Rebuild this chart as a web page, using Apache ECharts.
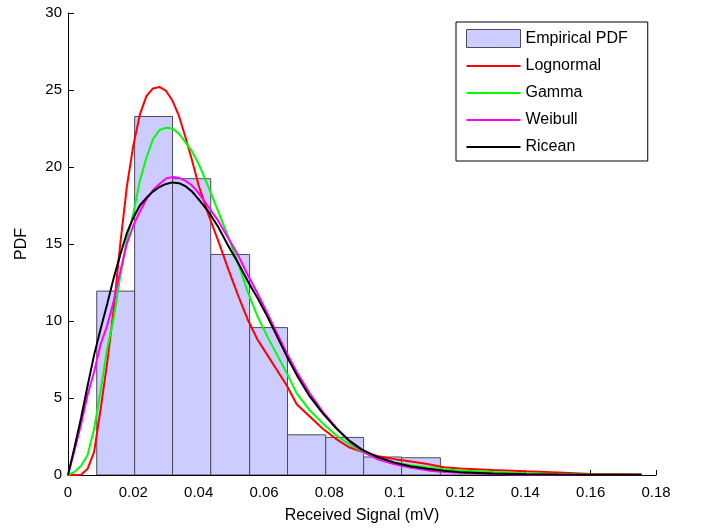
<!DOCTYPE html>
<html>
<head>
<meta charset="utf-8">
<script src="https://cdn.jsdelivr.net/npm/echarts@6/dist/echarts.min.js"></script>
<style>
  html, body { margin: 0; padding: 0; background: #fff; }
  #chart { width: 704px; height: 529px; }
</style>
</head>
<body>
<div id="chart"></div>
<script>
// histogram bins (edges n+1, heights n)
const binEdges = [0.0088, 0.0204, 0.0320, 0.0437, 0.0556, 0.0672, 0.0789, 0.0905, 0.1021, 0.1140, 0.1256, 0.1373, 0.1489, 0.1606, 0.1722];
const binHeights = [11.94, 23.28, 19.24, 14.32, 9.57, 2.61, 2.44, 1.17, 1.12, 0.25, 0.12, 0.08, 0.04, 0.03];

// fitted curves, sampled on a shared x grid
const fitX = [0, 0.002, 0.004, 0.006, 0.008, 0.010, 0.012, 0.014, 0.016, 0.018,
  0.020, 0.022, 0.024, 0.026, 0.028, 0.030, 0.032, 0.034, 0.036, 0.038,
  0.040, 0.043, 0.046, 0.049, 0.052, 0.055, 0.058, 0.061, 0.064, 0.067,
  0.070, 0.074, 0.078, 0.082, 0.086, 0.090, 0.095, 0.100, 0.105, 0.110,
  0.115, 0.120, 0.130, 0.140, 0.150, 0.160, 0.1756];

const lognormalPdf = [0, 0, 0.02, 0.4, 1.5, 4.3, 7.3, 10.8, 15.0, 18.7,
  21.4, 23.4, 24.6, 25.1, 25.2, 24.95, 24.3, 23.3, 21.9, 20.4,
  18.8, 16.9, 15.2, 13.4, 11.7, 10.1, 8.8, 7.8, 6.8, 5.8,
  4.6, 3.8, 3.0, 2.35, 1.8, 1.5, 1.22, 1.03, 0.88, 0.72,
  0.5, 0.42, 0.32, 0.24, 0.17, 0.07, 0.03];

const gammaPdf = [0, 0.2, 0.6, 1.3, 3.0, 5.5, 8.2, 10.2, 12.9, 15.3,
  17.0, 19.1, 20.6, 21.8, 22.4, 22.55, 22.5, 22.15, 21.6, 21.0,
  20.2, 18.7, 17.1, 15.5, 13.8, 11.9, 10.3, 9.0, 7.8, 6.6,
  5.3, 4.2, 3.35, 2.6, 2.0, 1.5, 1.05, 0.8, 0.63, 0.5,
  0.38, 0.3, 0.2, 0.12, 0.07, 0.04, 0.02];

const weibullPdf = [0, 1.6, 3.3, 5.2, 6.7, 8.5, 9.7, 11.3, 13.2, 15.0,
  16.2, 17.1, 17.9, 18.5, 18.9, 19.25, 19.35, 19.3, 19.1, 18.8,
  18.3, 17.4, 16.5, 15.4, 14.3, 13.0, 11.8, 10.5, 9.2, 7.9,
  6.7, 5.3, 4.1, 3.1, 2.2, 1.55, 1.0, 0.7, 0.47, 0.3,
  0.2, 0.14, 0.06, 0.02, 0.01, 0, 0];

const riceanPdf = [0, 1.8, 3.7, 5.8, 7.8, 9.5, 11.1, 12.8, 14.3, 15.7,
  16.7, 17.5, 18.0, 18.4, 18.7, 18.9, 19.0, 18.95, 18.75, 18.4,
  17.9, 17.1, 16.1, 14.9, 13.8, 12.6, 11.5, 10.3, 9.0, 7.7,
  6.5, 5.1, 4.0, 3.05, 2.25, 1.65, 1.15, 0.8, 0.55, 0.4,
  0.27, 0.18, 0.09, 0.05, 0.03, 0.02, 0.01];

const FONT = "Liberation Sans, Arial, sans-serif";
// thin horizontal bar inside a full-height box, so the legend shows a plain line
const LINE_ICON = "path://M0,0 M54,18 M0,8H54V10H0Z";

const histData = binHeights.map((h, i) => [binEdges[i], binEdges[i + 1], h]);
const pairs = (ys) => fitX.map((x, i) => [x, ys[i]]);

const CURVES = [
  { name: "Lognormal", data: lognormalPdf, color: "#ff0000" },
  { name: "Gamma", data: gammaPdf, color: "#00ff00" },
  { name: "Weibull", data: weibullPdf, color: "#ff00ff" },
  { name: "Ricean", data: riceanPdf, color: "#000000" },
];

const chart = echarts.init(document.getElementById("chart"));

const lineSeries = CURVES.map(({ name, data, color }) => ({
  type: "line",
  name,
  data: pairs(data),
  color,
  symbol: "none",
  smooth: false,
  lineStyle: { width: 2, color },
  z: 3,
}));

chart.setOption({
  backgroundColor: "#fff",
  animation: false,
  textStyle: { fontFamily: FONT },
  grid: { left: 68, right: 48, top: 13, bottom: 53 },
  legend: {
    left: 456,
    top: 22,
    orient: "vertical",
    backgroundColor: "#fff",
    borderColor: "#000",
    borderWidth: 1,
    borderRadius: 0,
    padding: [7, 20, 5, 10],
    itemWidth: 54,
    itemHeight: 18,
    itemGap: 9,
    textStyle: { fontFamily: FONT, fontSize: 16, color: "#000" },
    data: [
      {
        name: "Empirical PDF",
        icon: "rect",
        itemStyle: { color: "#ccccff", borderColor: "#4a4a5a", borderWidth: 1 },
      },
      ...CURVES.map(({ name, color }) => ({
        name,
        icon: LINE_ICON,
        itemStyle: { color, borderWidth: 0 },
      })),
    ],
  },
  xAxis: {
    type: "value",
    min: 0,
    max: 0.18,
    interval: 0.02,
    name: "Received Signal (mV)",
    nameLocation: "middle",
    nameGap: 33,
    nameTextStyle: { fontFamily: FONT, fontSize: 16, color: "#000" },
    axisLine: { show: true, onZero: false, lineStyle: { color: "#000", width: 1 } },
    axisTick: { show: true, inside: true, length: 5, lineStyle: { color: "#000" } },
    axisLabel: {
      margin: 10,
      fontFamily: FONT,
      fontSize: 15,
      color: "#000",
      formatter: (v) => String(+v.toFixed(2)),
    },
    splitLine: { show: false },
  },
  yAxis: {
    type: "value",
    min: 0,
    max: 30,
    interval: 5,
    name: "PDF",
    nameLocation: "middle",
    nameGap: 38,
    nameTextStyle: { fontFamily: FONT, fontSize: 16, color: "#000" },
    axisLine: { show: true, onZero: false, lineStyle: { color: "#000", width: 1 } },
    axisTick: { show: true, inside: true, length: 6, lineStyle: { color: "#000" } },
    axisLabel: { margin: 6, fontFamily: FONT, fontSize: 15, color: "#000" },
    splitLine: { show: false },
  },
  series: [
    {
      type: "custom",
      name: "Empirical PDF",
      data: histData,
      encode: { x: [0, 1], y: 2 },
      itemStyle: { color: "#ccccff" },
      z: 2,
      clip: true,
      renderItem(params, api) {
        const topLeft = api.coord([api.value(0), api.value(2)]);
        const bottomRight = api.coord([api.value(1), 0]);
        return {
          type: "rect",
          shape: {
            x: topLeft[0],
            y: topLeft[1],
            width: bottomRight[0] - topLeft[0],
            height: bottomRight[1] - topLeft[1],
          },
          style: { fill: "#ccccff", stroke: "#4a4a5a", lineWidth: 1 },
        };
      },
    },
    ...lineSeries,
  ],
});
</script>
</body>
</html>
